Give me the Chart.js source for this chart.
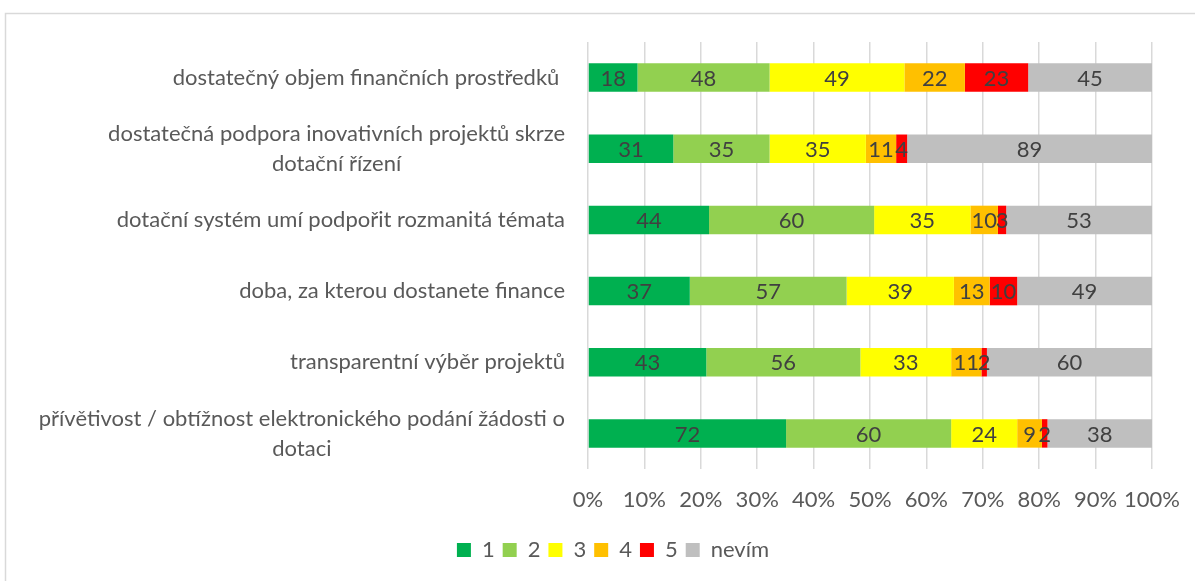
<!DOCTYPE html>
<html>
<head>
<meta charset="utf-8">
<script src="https://cdn.jsdelivr.net/npm/chart.js@4.4.1/dist/chart.umd.min.js"></script>
<style>
  html, body { margin: 0; padding: 0; background: #ffffff; }
  #wrap { width: 1195px; height: 581px; position: relative; }
</style>
</head>
<body>
<div id="wrap"><canvas id="c" width="1195" height="581"></canvas></div>
<script>
// ---- data ----
const categories = [
  ["dostatečný objem finančních prostředků "],
  ["dostatečná podpora inovativních projektů skrze", "dotační řízení"],
  ["dotační systém umí podpořit rozmanitá témata"],
  ["doba, za kterou dostanete finance"],
  ["transparentní výběr projektů"],
  ["přívětivost / obtížnost elektronického podání žádosti o", "dotaci"]
];
const seriesNames = ["1", "2", "3", "4", "5", "nevím"];
const values1 = [18, 31, 44, 37, 43, 72];
const values2 = [48, 35, 60, 57, 56, 60];
const values3 = [49, 35, 35, 39, 33, 24];
const values4 = [22, 11, 10, 13, 11, 9];
const values5 = [23, 4, 3, 10, 2, 2];
const valuesNevim = [45, 89, 53, 49, 60, 38];
const xTickValues = [0, 10, 20, 30, 40, 50, 60, 70, 80, 90, 100];

const colors = ["#00B050", "#92D050", "#FFFF00", "#FFC000", "#FF0000", "#BFBFBF"];
const allSeries = [values1, values2, values3, values4, values5, valuesNevim];
const totals = categories.map((_, i) => allSeries.reduce((s, arr) => s + arr[i], 0));

const FONT = "Lato";
const FS = 22;

const datasets = allSeries.map((arr, k) => ({
  label: seriesNames[k],
  raw: arr,
  data: arr.map((v, i) => v / totals[i] * 100),
  backgroundColor: colors[k],
  borderWidth: 0,
  barPercentage: 0.8,
  categoryPercentage: 0.5
}));

const bgPlugin = {
  id: 'bg',
  beforeDraw(chart) {
    const ctx = chart.ctx;
    ctx.save();
    ctx.fillStyle = '#ffffff';
    ctx.fillRect(0, 0, chart.width, chart.height);
    ctx.strokeStyle = '#d9d9d9';
    ctx.lineWidth = 1.5;
    ctx.strokeRect(5.5, 13.5, chart.width + 20, chart.height + 20);
    ctx.restore();
  }
};

const labelPlugin = {
  id: 'valueLabels',
  afterDatasetsDraw(chart) {
    const ctx = chart.ctx;
    ctx.save();
    ctx.font = FS + "px " + FONT;
    ctx.fillStyle = '#404040';
    ctx.textAlign = 'center';
    ctx.textBaseline = 'middle';
    chart.data.datasets.forEach((ds, k) => {
      const meta = chart.getDatasetMeta(k);
      meta.data.forEach((bar, i) => {
        const cx = (bar.x + bar.base) / 2;
        ctx.fillText(String(ds.raw[i]), cx, bar.y + 1);
      });
    });
    ctx.restore();
  }
};

const catLabelPlugin = {
  id: 'catLabels',
  afterDraw(chart) {
    const ctx = chart.ctx;
    const yScale = chart.scales.y;
    const right = chart.chartArea.left - 23;
    ctx.save();
    ctx.font = FS + "px " + FONT;
    ctx.fillStyle = '#595959';
    ctx.textBaseline = 'middle';
    ctx.textAlign = 'center';
    const lh = 30;
    categories.forEach((lines, i) => {
      const y = yScale.getPixelForValue(i);
      const widths = lines.map(l => ctx.measureText(l).width);
      const bw = Math.max(...widths);
      const cx = right - bw / 2;
      const y0 = y - (lines.length - 1) * lh / 2;
      lines.forEach((l, j) => {
        ctx.fillText(l, cx, y0 + j * lh);
      });
    });
    ctx.restore();
  }
};

new Chart(document.getElementById('c'), {
  type: 'bar',
  data: {
    labels: categories.map(l => l.join(' ')),
    datasets
  },
  options: {
    indexAxis: 'y',
    responsive: false,
    animation: false,
    layout: { padding: { top: 42, right: 43, bottom: 10, left: 74 } },
    plugins: {
      legend: {
        position: 'bottom',
        labels: {
          boxWidth: 14,
          boxHeight: 14,
          padding: 8,
          color: '#595959',
          font: { family: FONT, size: FS }
        }
      },
      tooltip: { enabled: false }
    },
    scales: {
      x: {
        stacked: true,
        min: 0,
        max: 100,
        afterBuildTicks(scale) {
          scale.ticks = xTickValues.map(v => ({ value: v }));
        },
        afterFit(scale) {
          scale.height = 62;
          scale.paddingLeft = 0;
          scale.paddingRight = 0;
        },
        grid: { color: '#d9d9d9', lineWidth: 1.5, drawTicks: false },
        border: { display: false },
        ticks: {
          padding: 18,
          maxRotation: 0,
          minRotation: 0,
          autoSkip: false,
          color: '#595959',
          font: { family: FONT, size: FS },
          callback: (v) => v + '%'
        }
      },
      y: {
        stacked: true,
        afterFit(scale) { scale.width = 514; },
        grid: { display: false },
        border: { display: false },
        ticks: { display: false }
      }
    }
  },
  plugins: [bgPlugin, labelPlugin, catLabelPlugin]
});
</script>
</body>
</html>
